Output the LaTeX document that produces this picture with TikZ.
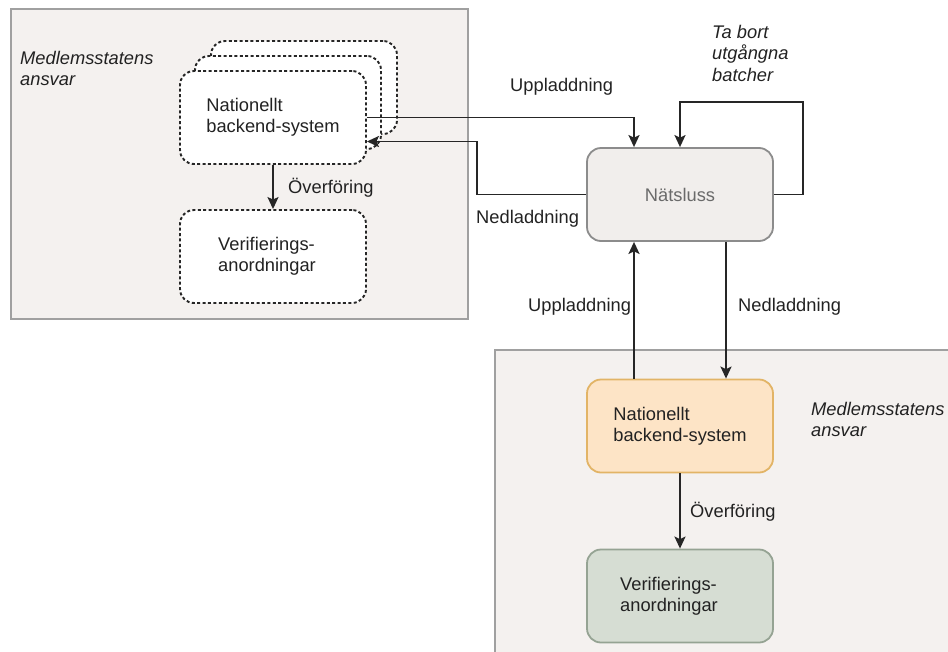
\documentclass[tikz,border=0pt]{standalone}
\usepackage{fontspec}
\setmainfont{Liberation Sans}
\usetikzlibrary{arrows.meta}
\definecolor{panelfill}{HTML}{F4F1EF}
\definecolor{panelline}{HTML}{A0A0A0}
\definecolor{txt}{HTML}{222222}
\definecolor{graytxt}{HTML}{6A6A6A}
\definecolor{gwfill}{HTML}{F1EEEC}
\definecolor{gwline}{HTML}{8C8C8C}
\definecolor{orfill}{HTML}{FDE4C6}
\definecolor{orline}{HTML}{E2B466}
\definecolor{grfill}{HTML}{D6DDD3}
\definecolor{grline}{HTML}{95A393}
\tikzset{
  every node/.style={font=\fontsize{18.3}{21}\selectfont, text=txt},
  panel/.style={draw=panelline, fill=panelfill, line width=1.8pt, inner sep=0pt},
  box/.style={rounded corners=14pt, minimum width=186pt, minimum height=93pt,
    inner sep=0pt, line width=1.8pt},
  dotbox/.style={box, draw=black!85, fill=white, line width=1.9pt, dash pattern=on 3pt off 2.4pt},
  arr/.style={draw=black!85, line width=1.9pt,
    -{Stealth[length=12pt, width=11pt, inset=2.5pt]}},
  lbl/.style={inner sep=0pt},
  ital/.style={inner sep=0pt, align=left, font=\fontsize{18.3}{21.5}\selectfont\itshape}
}
\begin{document}
\begin{tikzpicture}[x=1pt, y=-1pt]
\useasboundingbox (0,0) rectangle (948,651);

% responsibility areas
\node[panel, minimum width=457pt, minimum height=310pt, anchor=north west] (panelA) at (10,8) {};
\begin{scope}
  \clip (0,0) rectangle (948,651);
  \node[panel, minimum width=460pt, minimum height=310pt, anchor=north west] (panelB) at (494,349) {};
\end{scope}

\node[ital, anchor=north west] (respA) at (20,51) {Medlemsstatens\\ansvar};
\node[ital, anchor=north west] (respB) at (811,402) {Medlemsstatens\\ansvar};

% stacked national backends (top left)
\node[dotbox] (back) at (304,87.5) {};
\node[dotbox] (mid) at (288,102.5) {};
\node[dotbox, align=left] (front) at (273,117.5) {Nationellt\\backend-system};
\node[dotbox, align=left] (verA) at (273,256.5) {\hspace*{-12pt}Verifierings-\\\hspace*{-12pt}anordningar};

% gateway
\node[box, draw=gwline, fill=gwfill, text=graytxt] (nats) at (680,194.5) {Nätsluss};

% national backend (bottom right)
\node[box, draw=orline, fill=orfill, align=left] (backB) at (680,426) {Nationellt\\backend-system};
\node[box, draw=grline, fill=grfill, align=left] (verB) at (680,596) {\hspace*{-22pt}Verifierings-\\\hspace*{-22pt}anordningar};

% connectors
\draw[arr] (front.east) -| ([xshift=-46pt]nats.north);
\draw[arr] (nats.west) -- (477,194.5) |- ([yshift=-24pt]front.east);
\draw[arr] (nats.east) -- (803,194.5) |- (680,102) -- (nats.north);
\draw[arr] (front.south) -- (verA.north);
\draw[arr] ([xshift=-46pt]backB.north) -- ([xshift=-46pt]nats.south);
\draw[arr] ([xshift=46pt]nats.south) -- ([xshift=46pt]backB.north);
\draw[arr] (backB.south) -- (verB.north);

% labels
\node[lbl, anchor=west] (lUpA) at (510,87) {Uppladdning};
\node[lbl, anchor=west] (lDownA) at (476,219) {Nedladdning};
\node[ital, anchor=north west] (lDel) at (712,25) {Ta bort\\utgångna\\batcher};
\node[lbl, anchor=west] (lUpB) at (528,307) {Uppladdning};
\node[lbl, anchor=west] (lDownB) at (738,307) {Nedladdning};
\node[lbl, anchor=west] (lTrA) at (288,188) {Överföring};
\node[lbl, anchor=west] (lTrB) at (690,512) {Överföring};
\end{tikzpicture}
\end{document}
